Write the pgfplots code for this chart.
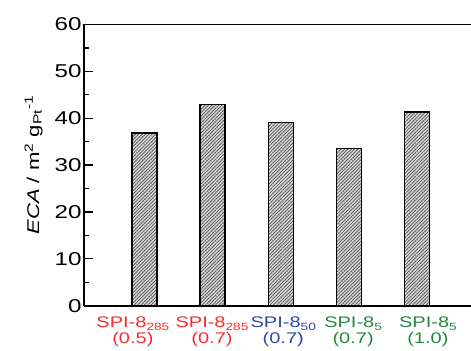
\documentclass[border=0pt]{standalone}
\usepackage{fontspec}
\setmainfont{Liberation Sans}[FakeStretch=1.3]
\usepackage{pgfplots}
\pgfplotsset{compat=1.18}
\usetikzlibrary{patterns.meta}
\definecolor{cred}{RGB}{245,45,45}
\definecolor{cblue}{RGB}{50,70,170}
\definecolor{cgreen}{RGB}{35,135,65}
\newcommand{\sub}[1]{\raisebox{-3pt}{\fontsize{10.5}{10}\selectfont #1}}
\begin{document}
\begin{tikzpicture}
\begin{axis}[
  scale only axis,
  width=387pt, height=281.2pt,
  xmin=-0.887, xmax=4.789,
  ymin=0, ymax=60,
  axis x line=box, axis y line=left,
  axis line style={-, line width=1.7pt},
  ytick={0,10,...,60},
  minor y tick num=1,
  tick align=inside,
  major tick length=9pt, minor tick length=5pt,
  y tick style={line width=1.2pt, black},
  x tick style={draw=none},
  xtick={-0.17,0.99,2.035,3.06,4.157},
  xticklabels={
    {\textcolor{cred}{SPI-8\sub{285}}\\\textcolor{cred}{(0.5)}},
    {\textcolor{cred}{SPI-8\sub{285}}\\\textcolor{cred}{(0.7)}},
    {\textcolor{cblue}{SPI-8\sub{50}}\\\textcolor{cblue}{(0.7)}},
    {\textcolor{cgreen}{SPI-8\sub{5}}\\\textcolor{cgreen}{(0.7)}},
    {\textcolor{cgreen}{SPI-8\sub{5}}\\\textcolor{cgreen}{(1.0)}}},
  xticklabel style={align=center, font=\fontsize{15.4}{11.5}\selectfont, yshift=1pt},
  yticklabel style={font=\fontsize{18.6}{20}\selectfont, xshift=1pt},
  /pgf/number format/assume math mode=true,
  every axis y label/.style={at={(axis description cs:-0.1305,0.5)}, rotate=90, anchor=center},
  ylabel={\fontsize{17}{18}\selectfont\textit{ECA} / m\textsuperscript{2} g\textsubscript{Pt}\textsuperscript{-1}},
  ybar, bar width=25pt,
  clip=false,
]
\addplot[draw=black, line width=1.5pt,
  preaction={fill=gray!30},
  pattern={Lines[angle=45,distance=2.4pt,line width=0.7pt]}, pattern color=black!70]
  coordinates {(0,36.9) (1,42.9) (2,39.1) (3,33.5) (4,41.3)};
\end{axis}
\pgfresetboundingbox
\useasboundingbox ([shift={(-84pt,-45.3pt)}]current axis.south west) rectangle ([shift={(0pt,24.5pt)}]current axis.north east);
\end{tikzpicture}
\end{document}
